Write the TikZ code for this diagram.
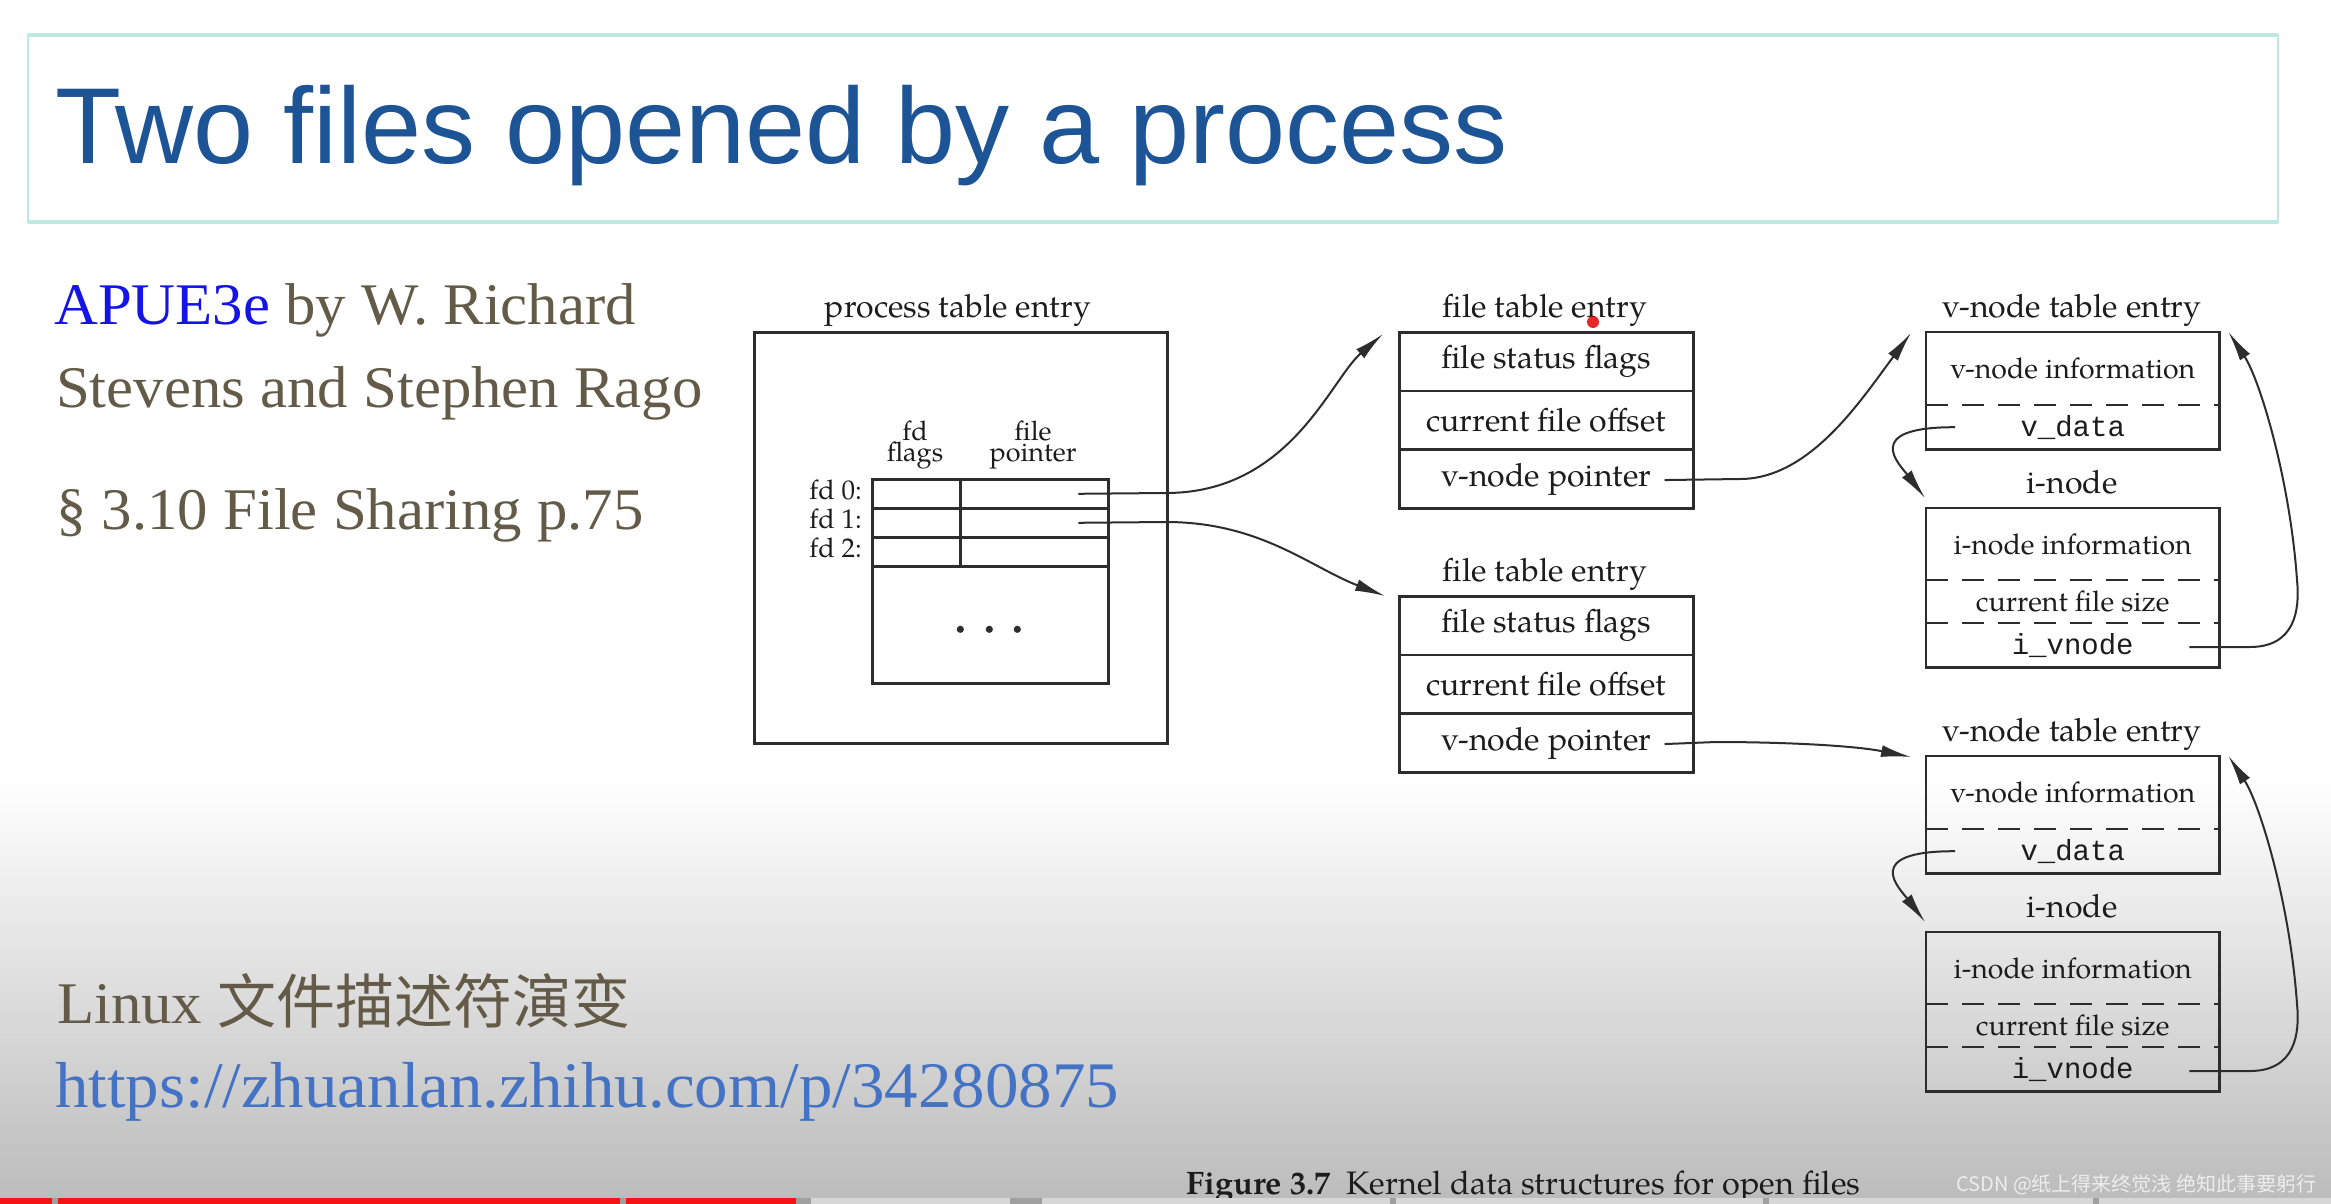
\documentclass[tikz,border=0pt]{standalone}
\usepackage{fontspec}
\usetikzlibrary{arrows.meta,calc}
\newfontfamily\figfont{TeX Gyre Pagella}
\newfontfamily\slidefont[FakeStretch=1.03]{Liberation Serif}
\newfontfamily\titlefont{Liberation Sans}
\newfontfamily\cjkfont{Noto Sans CJK SC}
\newfontfamily\figmono{Liberation Mono}
\newcommand\fsz[2]{\fontsize{#1}{#2}\selectfont}
\definecolor{titleblue}{RGB}{28,84,150}
\definecolor{titleframe}{RGB}{190,232,226}
\definecolor{slidebrown}{RGB}{100,90,72}
\definecolor{apueblue}{RGB}{20,20,230}
\definecolor{urlblue}{RGB}{68,114,196}
\definecolor{lc}{RGB}{45,45,45}
\definecolor{tc}{RGB}{28,28,28}
\definecolor{bggray}{RGB}{188,188,188}
\definecolor{barred}{RGB}{245,20,20}
\definecolor{barlight}{RGB}{215,215,215}
\begin{document}
\begin{tikzpicture}[x=1pt,y=-1pt,
  box/.style={draw=lc, line width=2.6pt},
  cell/.style={box, minimum width=294pt, minimum height=58.7pt, inner sep=0pt, anchor=north west, font=\figfont\fsz{32}{38}, text=tc},
  comp/.style={minimum width=293pt, inner sep=0pt, anchor=north west, font=\figfont\fsz{28.5}{34}, text=tc},
  mono/.style={font=\figmono\fsz{29}{34}},
  lbl/.style={anchor=base, inner sep=0pt, font=\figfont\fsz{32}{38}, text=tc},
  small/.style={anchor=base, inner sep=0pt, font=\figfont\fsz{27}{30}, text=tc},
  head/.style={anchor=south, inner sep=0pt, align=center, font=\figfont\fsz{27}{21}, text=tc},
  tcell/.style={box, inner sep=0pt, anchor=north west, minimum height=29pt},
  arr/.style={draw=lc, line width=2pt, -{Latex[length=30pt,width=12pt]}},
  dsh/.style={draw=lc, line width=2.6pt, dash pattern=on 22pt off 14pt},
  slide/.style={anchor=base west, inner sep=0pt, font=\slidefont\fsz{59}{70}, text=slidebrown}
]
\useasboundingbox (0,0) rectangle (2331,1204);
% background
\fill[white] (0,0) rectangle (2331,1204);
\shade[top color=white, bottom color=bggray] (0,780) rectangle (2331,1198);

% title box
\draw[draw=titleframe, line width=1.5pt, fill=white] (28,35) rectangle (2278,222);
\draw[draw=titleframe, line width=3.5pt] (28,35) -- (2278,35) (28,222) -- (2278,222);
\node[anchor=base west, inner sep=0pt, font=\titlefont\fsz{108}{120}, text=titleblue] (title) at (55,163) {Two files opened by a process};

% left texts
\node[slide] (l1) at (54,324) {\textcolor{apueblue}{APUE3e} by W. Richard};
\node[slide] (l2) at (56,407) {Stevens and Stephen Rago};
\node[slide] (l3) at (56,529) {§ 3.10 File Sharing p.75};
\node[slide] (l4) at (57,1023) {Linux {\cjkfont 文件描述符演变}};
\node[slide, font=\slidefont\fsz{65}{76}, text=urlblue] (l5) at (55,1107) {https://zhuanlan.zhihu.com/p/34280875};

% ---------- process table entry ----------
\node[lbl] (proclbl) at (958,317) {process table entry};
\node[box, inner sep=0pt, anchor=north west, minimum width=413pt, minimum height=411pt] (proc) at (753,331) {};
\node[tcell, minimum width=88pt] (fl0) at (871,478) {};
\node[tcell, minimum width=148pt] (p0) at (959,478) {};
\node[tcell, minimum width=88pt] (fl1) at (871,507) {};
\node[tcell, minimum width=148pt] (p1) at (959,507) {};
\node[tcell, minimum width=88pt] (fl2) at (871,536) {};
\node[tcell, minimum width=148pt] (p2) at (959,536) {};
\node[tcell, minimum width=236pt, minimum height=117pt] (rest) at (871,565) {};
\foreach \dx in {-30,-1,27} \fill[lc] ($(rest.center)+(\dx,4.5)$) circle (3.6);
\node[small, anchor=base east] (fd0) at ($(fl0.west)+(-9,6)$) {fd 0:};
\node[small, anchor=base east] (fd1) at ($(fl1.west)+(-9,6)$) {fd 1:};
\node[small, anchor=base east] (fd2) at ($(fl2.west)+(-9,6)$) {fd 2:};
\node[head] (h1) at (915,469) {fd\\flags};
\node[head] (h2) at (1033,469) {file\\pointer};

% ---------- file table entries ----------
\node[lbl] (ft1lbl) at (1545,317) {file table entry};
\node[cell] (f1a) at (1398,331) {file status flags};
\node[cell] (f1b) at (1398,389.7) {current file offset};
\node[cell] (f1c) at (1398,448.4) {v-node pointer};

\node[lbl] (ft2lbl) at (1545,581) {file table entry};
\node[cell] (f2a) at (1398,595) {file status flags};
\node[cell] (f2b) at (1398,653.7) {current file offset};
\node[cell] (f2c) at (1398,712.4) {v-node pointer};

% ---------- v-node / i-node set 1 ----------
\node[lbl] (vlbl1) at (2072,317) {v-node table entry};
\node[comp, minimum height=73pt] (vinfo1) at (1926,332) {v-node information};
\node[comp, mono, minimum height=44pt] (vdata1) at (1926,405) {v\_data};
\draw[box] (vinfo1.north west) rectangle (vdata1.south east);
\draw[dsh] (vdata1.north west) -- (vdata1.north east);
\node[lbl] (ilbl1) at (2072,493) {i-node};
\node[comp, minimum height=72pt] (iinfo1) at (1926,508) {i-node information};
\node[comp, minimum height=43pt] (isize1) at (1926,580) {current file size};
\node[comp, mono, minimum height=44pt] (ivn1) at (1926,623) {i\_vnode};
\draw[box] (iinfo1.north west) rectangle (ivn1.south east);
\draw[dsh] (isize1.north west) -- (isize1.north east);
\draw[dsh] (ivn1.north west) -- (ivn1.north east);

% ---------- v-node / i-node set 2 ----------
\node[lbl] (vlbl2) at (2072,741) {v-node table entry};
\node[comp, minimum height=73pt] (vinfo2) at (1926,756) {v-node information};
\node[comp, mono, minimum height=44pt] (vdata2) at (1926,829) {v\_data};
\draw[box] (vinfo2.north west) rectangle (vdata2.south east);
\draw[dsh] (vdata2.north west) -- (vdata2.north east);
\node[lbl] (ilbl2) at (2072,917) {i-node};
\node[comp, minimum height=72pt] (iinfo2) at (1926,932) {i-node information};
\node[comp, minimum height=43pt] (isize2) at (1926,1004) {current file size};
\node[comp, mono, minimum height=44pt] (ivn2) at (1926,1047) {i\_vnode};
\draw[box] (iinfo2.north west) rectangle (ivn2.south east);
\draw[dsh] (isize2.north west) -- (isize2.north east);
\draw[dsh] (ivn2.north west) -- (ivn2.north east);

% ---------- connectors ----------
\draw[arr] ($(p0.center)+(44,0)$) -- (1166,493) .. controls (1290,493) and (1330,380) .. ($(f1a.north west)+(-15,3)$);
\draw[arr] ($(p1.center)+(44,0)$) -- (1166,522) .. controls (1260,522) and (1310,567) .. ($(f2a.north west)+(-13,1)$);
\draw[arr] ($(f1c.east)+(-30,1)$) -- (1740,479) .. controls (1810,479) and (1861,400) .. ($(vinfo1.north west)+(-15,1)$);
\draw[arr] ($(f2c.east)+(-30,1)$) -- (1716,742) .. controls (1776,742) and (1851,745) .. ($(vinfo2.north west)+(-15,1)$);
\draw[arr] ($(vdata1.west)+(29,0)$) .. controls (1860,427) and (1900,465) .. ($(iinfo1.north west)+(-1,-10)$);
\draw[arr] ($(vdata2.west)+(29,0)$) .. controls (1860,851) and (1900,889) .. ($(iinfo2.north west)+(-1,-10)$);
\draw[arr] ($(ivn1.east)+(-30,2)$) -- (2250,647) .. controls (2295,647) and (2300,610) .. (2297,580) .. controls (2290,480) and (2260,380) .. ($(vinfo1.north east)+(9,0)$);
\draw[arr] ($(ivn2.east)+(-30,2)$) -- (2250,1071) .. controls (2295,1071) and (2300,1034) .. (2297,1004) .. controls (2290,904) and (2260,804) .. ($(vinfo2.north east)+(9,0)$);

% red pointer mark
\fill[red!90!black, opacity=0.85] (1593,322) circle (6);

% caption and watermark
\node[anchor=base west, inner sep=0pt, font=\figfont\fsz{32.5}{38}, text=tc] (cap) at (1186,1194) {\textbf{Figure 3.7}\hspace{16pt}Kernel data structures for open files};
\node[anchor=west, inner sep=0pt, font=\cjkfont\fsz{20}{24}, text=white!93!black] (wm) at (1956,1185) {CSDN @纸上得来终觉浅 绝知此事要躬行};

% bottom bar
\fill[gray!75] (0,1198) rectangle (2331,1204);
\fill[barred] (0,1198) rectangle (52,1204);
\fill[barred] (58,1198) rectangle (620,1204);
\fill[barred] (626,1198) rectangle (796,1204);
\fill[barlight] (811,1198) rectangle (1010,1204);
\fill[barlight] (1042,1198) rectangle (1390,1204);
\fill[barlight] (1396,1198) rectangle (1763,1204);
\fill[barlight] (1769,1198) rectangle (2093,1204);
\fill[barlight] (2099,1198) rectangle (2331,1204);
\end{tikzpicture}
\end{document}
